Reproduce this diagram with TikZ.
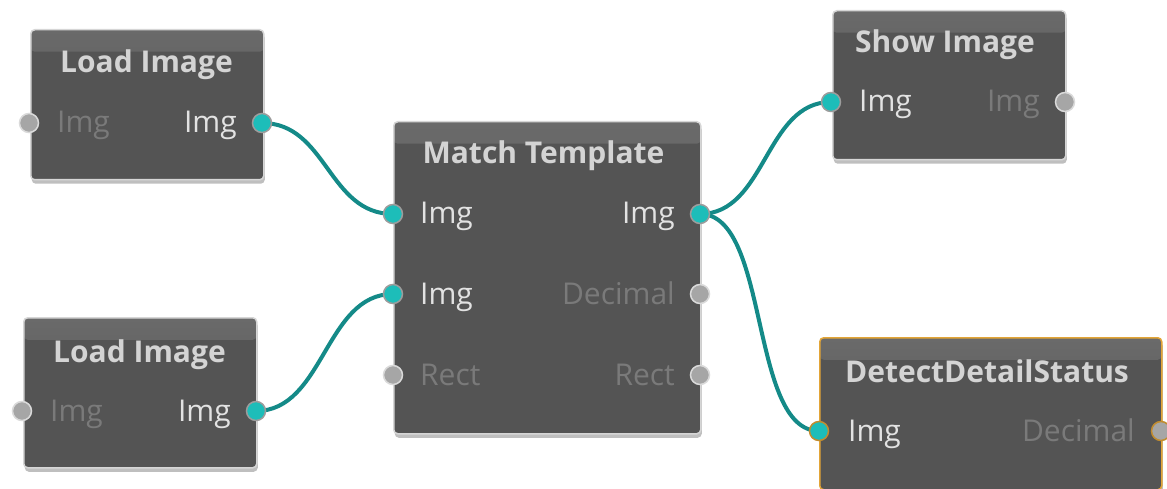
\documentclass[tikz,border=0pt]{standalone}
\usepackage{fontspec}
\setmainfont{Open Sans}
\usetikzlibrary{shadows}
\definecolor{nodefill}{HTML}{545454}
\definecolor{headfill}{HTML}{6A6A6A}
\definecolor{boxborder}{HTML}{D6D6D6}
\definecolor{selborder}{HTML}{E3A537}
\definecolor{titlecol}{HTML}{D4D4D4}
\definecolor{oncol}{HTML}{E2E2E2}
\definecolor{offcol}{HTML}{7A7A7A}
\definecolor{portteal}{HTML}{1DBDB9}
\definecolor{portgray}{HTML}{A6A6A6}
\definecolor{portedge}{HTML}{9C9C9C}
\definecolor{portedgeoff}{HTML}{DADADA}
\definecolor{wirecol}{HTML}{148A88}
\pgfdeclarelayer{bg}
\pgfsetlayers{bg,main}
\begin{document}
\begin{tikzpicture}[x=1pt,y=-1pt,
  nodebox/.style={draw=boxborder, line width=1.5pt, rounded corners=4pt, fill=nodefill,
    inner sep=0pt, anchor=north west,
    drop shadow={shadow xshift=1pt, shadow yshift=-4pt, opacity=0.25, fill=black},
    path picture={\shade[top color=headfill, bottom color=nodefill] (path picture bounding box.north west) rectangle ([yshift=-22pt]path picture bounding box.north east);}},
  selbox/.style={nodebox, draw=selborder},
  nodetitle/.style={font=\bfseries\fontsize{30}{32}\selectfont, text=titlecol, inner sep=0pt},
  lblon/.style={font=\fontsize{30}{32}\selectfont, text=oncol, inner sep=0pt},
  lbloff/.style={font=\fontsize{30}{32}\selectfont, text=offcol, inner sep=0pt},
  porton/.style={circle, draw=portedge, fill=portteal, line width=1.5pt, minimum size=19pt, inner sep=0pt},
  portoff/.style={circle, draw=portedgeoff, fill=portgray, line width=1.5pt, minimum size=19pt, inner sep=0pt},
  selport/.style={draw=selborder!85!black},
  wire/.style={draw=wirecol, line width=4pt}]
\useasboundingbox (0,0) rectangle (1167,489);

% boxes
\node[nodebox, minimum width=233pt, minimum height=150pt] (loadA) at (30,29) {};
\node[nodebox, minimum width=307pt, minimum height=312pt] (match) at (393,121) {};
\node[nodebox, minimum width=233pt, minimum height=149pt] (show) at (832,10) {};
\node[selbox, minimum width=342pt, minimum height=152pt] (detect) at (819,337) {};
\node[nodebox, minimum width=233pt, minimum height=150pt] (loadB) at (23,317) {};

% titles
\node[nodetitle, anchor=base] (tA) at (146.5,73) {Load Image};
\node[nodetitle, anchor=base] (tM) at (543.5,164) {Match Template};
\node[nodetitle, anchor=base] (tS) at (945,53) {Show Image};
\node[nodetitle, anchor=base] (tD) at (987,382) {DetectDetailStatus};
\node[nodetitle, anchor=base] (tB) at (139.5,362) {Load Image};

% ports
\node[portoff] (aIn) at (29,123) {};
\node[porton] (aOut) at (262,123) {};
\node[porton] (mIn1) at (393,214) {};
\node[porton] (mIn2) at (393,294) {};
\node[portoff] (mIn3) at (393,375) {};
\node[porton] (mOut1) at (700,214) {};
\node[portoff] (mOut2) at (700,294) {};
\node[portoff] (mOut3) at (700,375) {};
\node[porton] (sIn) at (831,102) {};
\node[portoff] (sOut) at (1065,102) {};
\node[porton, selport] (dIn) at (819,431) {};
\node[portoff, selport] (dOut) at (1161,431) {};
\node[portoff] (bIn) at (22,411) {};
\node[porton] (bOut) at (256,411) {};

% labels
\node[lbloff, anchor=base west] (laIn) at (57,133) {Img};
\node[lblon, anchor=base east] (laOut) at (237,133) {Img};
\node[lblon, anchor=base west] (lmIn1) at (420,224) {Img};
\node[lblon, anchor=base west] (lmIn2) at (420,304) {Img};
\node[lbloff, anchor=base west] (lmIn3) at (420,385) {Rect};
\node[lblon, anchor=base east] (lmOut1) at (675,224) {Img};
\node[lbloff, anchor=base east] (lmOut2) at (675,304) {Decimal};
\node[lbloff, anchor=base east] (lmOut3) at (675,385) {Rect};
\node[lblon, anchor=base west] (lsIn) at (859,112) {Img};
\node[lbloff, anchor=base east] (lsOut) at (1040,112) {Img};
\node[lblon, anchor=base west] (ldIn) at (848,441) {Img};
\node[lbloff, anchor=base east] (ldOut) at (1135,441) {Decimal};
\node[lbloff, anchor=base west] (lbIn) at (50,421) {Img};
\node[lblon, anchor=base east] (lbOut) at (231,421) {Img};

% wires
\begin{pgfonlayer}{bg}
\draw[wire] (aOut.center) .. controls +(65,0) and +(-65,0) .. (mIn1.center);
\draw[wire] (bOut.center) .. controls +(68,0) and +(-68,0) .. (mIn2.center);
\draw[wire] (mOut1.center) .. controls +(66,0) and +(-66,0) .. (sIn.center);
\draw[wire] (mOut1.center) .. controls +(70,0) and +(-70,0) .. (dIn.center);
\end{pgfonlayer}
\end{tikzpicture}
\end{document}
